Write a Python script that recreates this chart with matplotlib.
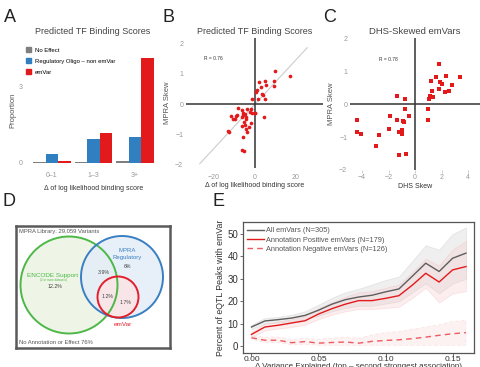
import matplotlib
matplotlib.use("Agg")
import matplotlib.pyplot as plt
from matplotlib.patches import Patch, Circle
from matplotlib.lines import Line2D

plt.rcParams["font.family"] = ["Liberation Sans", "DejaVu Sans"]

W, H = 480, 367

# ---- panel A data ----
bin_labels = ["0\u20131", "1\u20133", "3+"]
group_names = ["No Effect", "Regulatory Oligo \u2013 non emVar", "emVar"]
no_effect = [0.02, 0.02, 0.07]
reg_oligo = [0.36, 0.94, 1.03]
emvar = [0.09, 1.18, 4.15]

# ---- panel B data (delta log-lik, MPRA skew) ----
tf_delta = [9.7, 17.2, 9.3, 9.5, 1.8, 4.7, 5.3, 2.8, 0.8, 3.2, 3.7, 4.7, 1.5, -1.5,
            4.2, 0.2, -0.2, -1.3, -2.5, -3.7, -4.7, -5.7, -6.0, -6.5, -4.2, -8.2,
            -6.3, -8.8, -9.5, -11.7, -10.7, -9.8, -4.5, -5.2, -1.8, -4.7, -6.2,
            -3.0, -4.2, -3.7, -13.3, -12.5, -5.7, -6.2, -5.5, -2.0, 0.5]
tf_skew = [1.10, 0.94, 0.78, 0.61, 0.72, 0.78, 0.63, 0.56, 0.48, 0.34, 0.29, 0.18,
           0.17, 0.17, -0.43, -0.28, -0.28, -0.29, -0.25, -0.17, -0.32, -0.30,
           -0.35, -0.43, -0.43, -0.13, -0.20, -0.35, -0.41, -0.39, -0.49, -0.50,
           -0.49, -0.59, -0.63, -0.70, -0.72, -0.77, -0.83, -0.91, -0.88, -0.94,
           -1.09, -1.51, -1.54, -0.15, 0.40]
tf_fit_x = [-27, 25.5]
tf_fit_y = [-1.98, 1.87]

# ---- panel C data (DHS skew, MPRA skew) ----
dhs_skew = [1.82, 1.57, 2.33, 3.37, 1.22, 1.87, 2.03, 2.76, 1.77, 2.53, 2.23, 1.27,
            1.14, 1.06, 1.37, 0.96, 0.99, -1.37, -0.76, -0.76, -0.43, -0.89, -0.81,
            -1.92, -1.34, -1.97, -0.96, -1.22, -1.01, -2.73, -4.38, -4.38, -4.05,
            -2.96, -1.19, -0.71]
dhs_mpra = [1.24, 0.83, 0.88, 0.83, 0.73, 0.68, 0.63, 0.58, 0.48, 0.41, 0.38, 0.41,
            0.27, 0.18, 0.22, -0.13, -0.48, 0.25, 0.17, -0.15, -0.34, -0.51, -0.54,
            -0.36, -0.46, -0.74, -0.79, -0.84, -0.91, -0.94, -0.46, -0.83, -0.89,
            -1.27, -1.53, -1.50]

# ---- panel D data ----
venn_library = "MPRA Library: 29,059 Variants"
venn_none = "No Annotation or Effect 76%"
pct_encode = "12.2%"
pct_reg = "6%"
pct_enc_reg = "3.9%"
pct_all = "1.2%"
pct_reg_emvar = "1.7%"

# ---- panel E data ----
var_expl = [0.00, 0.01, 0.02, 0.03, 0.04, 0.05, 0.06, 0.07, 0.08, 0.09, 0.10,
            0.11, 0.12, 0.13, 0.14, 0.15, 0.16]
all_mean = [8.5, 11.2, 11.8, 12.5, 13.7, 16.0, 18.7, 20.7, 21.9, 22.7, 24.2, 25.5,
            31.2, 37.0, 33.3, 39.2, 41.5]
all_hi = [9.5, 12.5, 13, 14, 15.5, 18.5, 21.5, 24, 25.5, 27.5, 29.5, 31, 38, 45, 43, 50, 53]
all_lo = [7.5, 10, 10.5, 11, 12, 13.5, 15.5, 17, 18, 18, 19, 20, 24, 28, 23.5, 28, 30]
pos_mean = [5.2, 8.5, 9.3, 10.3, 11.3, 14.3, 16.7, 18.7, 20.3, 20.3, 21.3, 22.5,
            27.2, 32.5, 28.6, 34.0, 35.5]
pos_hi = [6.5, 10, 11, 12, 13.5, 17, 19.5, 22, 24, 24.5, 26, 27.5, 33, 39, 36, 43, 47]
pos_lo = [4, 7, 7.8, 8.5, 9.5, 12, 14, 15.5, 16.5, 16.5, 17, 17.5, 21.5, 26, 19.5, 23.5, 24.5]
neg_mean = [3.7, 2.6, 2.6, 1.5, 2.0, 1.3, 1.6, 1.8, 1.3, 2.1, 2.5, 2.8, 3.3, 4.0, 4.8, 5.5, 6.0]
neg_hi = [4.5, 4, 4, 3, 3.5, 3, 3.5, 4, 3.5, 5, 6, 6.5, 7.5, 8.5, 9.5, 11, 11.5]
neg_lo = [3, 1.5, 1.5, 0.5, 0.8, 0.3, 0.3, 0.3, 0.2, 0.3, 0.3, 0.3, 0.3, 0.3, 0.3, 0.3, 0.3]

GREY = "#7f7f7f"
BLUE = "#2f7fc1"
RED = "#e31a1c"
TICK = "#999999"
DARK = "#333333"


def rect(x0, y0, x1, y1):
    # pixel box (top-left origin) -> figure fraction
    return [x0 / W, 1 - y1 / H, (x1 - x0) / W, (y1 - y0) / H]


def ftext(x, y, s, **kw):
    fig.text(x / W, 1 - y / H, s, **kw)


fig = plt.figure(figsize=(4.8, 3.67), dpi=100)

# ---------------- A ----------------
axA = fig.add_axes(rect(27, 53, 160, 168))
bw = 0.3
xs = range(len(bin_labels))
axA.bar([i - bw for i in xs], no_effect, width=bw, color=GREY)
axA.bar(list(xs), reg_oligo, width=bw, color=BLUE)
axA.bar([i + bw for i in xs], emvar, width=bw, color=RED)
axA.set_xlim(-0.6, 2.6)
axA.set_ylim(-0.2, 4.34)
axA.set_xticks(list(xs))
axA.set_xticklabels(bin_labels)
axA.set_yticks([0, 3])
for s in axA.spines.values():
    s.set_visible(False)
axA.tick_params(length=0, labelsize=5, labelcolor=TICK, pad=3)
axA.set_ylabel("Proportion", fontsize=5.5, color="#555555", labelpad=2)
axA.set_xlabel("\u0394 of log likelihood binding score", fontsize=5, color=DARK, labelpad=4)
axA.legend(handles=[Patch(color=c) for c in (GREY, BLUE, RED)], labels=group_names,
           loc="upper left", bbox_to_anchor=(26 / W, 1 - 47 / H), bbox_transform=fig.transFigure,
           fontsize=4.3, frameon=False, handlelength=0.9, handleheight=0.9,
           labelspacing=0.95, handletextpad=0.6, borderpad=0, borderaxespad=0)
ftext(93, 31, "Predicted TF Binding Scores", ha="center", va="center", fontsize=6.5, color="#444444")

# ---------------- B ----------------
axB = fig.add_axes(rect(186, 38, 323, 168))
axB.plot(tf_fit_x, tf_fit_y, color="#cccccc", lw=0.8, zorder=1)
axB.axhline(0, color=DARK, lw=1.1, zorder=2)
axB.axvline(0, color=DARK, lw=1.1, zorder=2)
axB.scatter(tf_delta, tf_skew, s=7, color=RED, linewidths=0, zorder=3)
axB.set_xlim(-33.7, 33.2)
axB.set_ylim(-2.12, 2.19)
axB.set_xticks([-20, 0, 20])
axB.set_yticks([-2, -1, 0, 1, 2])
for s in axB.spines.values():
    s.set_visible(False)
axB.tick_params(length=0, labelsize=5, labelcolor=TICK)
axB.tick_params(axis="x", pad=4)
axB.tick_params(axis="y", pad=2)
axB.set_ylabel("MPRA Skew", fontsize=5.5, color="#555555", labelpad=3)
axB.set_xlabel("\u0394 of log likelihood binding score", fontsize=5, color=DARK, labelpad=1)
axB.text(-25, 1.5, "R = 0.76", fontsize=3.5, color=DARK, va="center")
ftext(255, 32, "Predicted TF Binding Scores", ha="center", va="center", fontsize=6.5, color="#444444")

# ---------------- C ----------------
axC = fig.add_axes(rect(350, 38, 480, 170))
axC.axhline(0, color=DARK, lw=1.1, zorder=2)
axC.axvline(0, color=DARK, lw=1.1, zorder=2)
axC.scatter(dhs_skew, dhs_mpra, s=9, marker="s", color=RED, linewidths=0, zorder=3)
axC.set_xlim(-4.9, 4.89)
axC.set_ylim(-1.97, 2.03)
axC.set_xticks([-4, -2, 0, 2, 4])
axC.set_yticks([-2, -1, 0, 1, 2])
for s in axC.spines.values():
    s.set_visible(False)
axC.tick_params(axis="y", length=0, labelsize=5, labelcolor=TICK, pad=2)
axC.tick_params(axis="x", length=2, width=0.5, color="#bbbbbb", labelsize=5, labelcolor=TICK, pad=1)
axC.set_ylabel("MPRA Skew", fontsize=5.5, color="#555555", labelpad=3)
axC.set_xlabel("DHS Skew", fontsize=5, color=DARK, labelpad=1)
axC.text(-2.7, 1.37, "R = 0.78", fontsize=3.5, color=DARK, va="center")
ftext(415, 32, "DHS-Skewed emVars", ha="center", va="center", fontsize=6.8, color="#444444")

# ---------------- D ----------------
axD = fig.add_axes(rect(16, 226, 170, 348))
axD.set_xlim(0, 154)
axD.set_ylim(0, 122)
axD.set_xticks([])
axD.set_yticks([])
for s in axD.spines.values():
    s.set_color("#5a5a5a")
    s.set_linewidth(1.8)
axD.add_patch(Circle((53, 63), 48.5, facecolor="#eef5e6", edgecolor="none", zorder=1))
axD.add_patch(Circle((106, 71), 41, facecolor="#e3edf7", edgecolor="none", alpha=0.85, zorder=2))
axD.add_patch(Circle((102, 51), 20.5, facecolor="#fbe4e6", edgecolor="none", alpha=0.9, zorder=3))
axD.add_patch(Circle((53, 63), 48.5, facecolor="none", edgecolor="#4db848", lw=1.4, zorder=4))
axD.add_patch(Circle((106, 71), 41, facecolor="none", edgecolor="#3a7fc1", lw=1.4, zorder=4))
axD.add_patch(Circle((102, 51), 20.5, facecolor="none", edgecolor="#e2202c", lw=1.4, zorder=5))
axD.text(3, 117, venn_library, fontsize=4.2, color="#555555", va="center")
axD.text(3, 5, venn_none, fontsize=4.2, color="#555555", va="center")
axD.text(111, 97, "MPRA", fontsize=4.3, color="#3a7fc1", ha="center", va="center", zorder=6)
axD.text(111, 90, "Regulatory", fontsize=4.3, color="#3a7fc1", ha="center", va="center", zorder=6)
axD.text(111, 82, pct_reg, fontsize=3.8, color="#444444", ha="center", va="center", zorder=6)
axD.text(37, 73, "ENCODE Support", fontsize=4.6, color="#4db848", ha="center", va="center", zorder=6)
axD.text(37, 68, "(2 or more datasets)", fontsize=2.2, color="#4db848", ha="center", va="center", zorder=6)
axD.text(39, 61, pct_encode, fontsize=3.8, color="#444444", ha="center", va="center", zorder=6)
axD.text(88, 75, pct_enc_reg, fontsize=3.8, color="#444444", ha="center", va="center", zorder=6)
axD.text(92, 52, pct_all, fontsize=3.8, color="#444444", ha="center", va="center", zorder=6)
axD.text(110, 45, pct_reg_emvar, fontsize=3.8, color="#444444", ha="center", va="center", zorder=6)
axD.text(107, 24, "emVar", fontsize=4.6, color="#e2202c", ha="center", va="center", zorder=6)

# ---------------- E ----------------
axE = fig.add_axes(rect(243, 222, 474, 353))
axE.fill_between(var_expl, all_lo, all_hi, facecolor="#d9d9d9", alpha=0.4,
                 edgecolor="#c8c8c8", lw=0.6)
axE.fill_between(var_expl, pos_lo, pos_hi, facecolor="#f7c6c8", alpha=0.3,
                 edgecolor="#f2b6b9", lw=0.6)
axE.fill_between(var_expl, neg_lo, neg_hi, facecolor="#fbd5d7", alpha=0.3,
                 edgecolor="#f5b9bc", lw=0.6, linestyle=(0, (4, 3)))
axE.plot(var_expl, all_mean, color="#5e5e5e", lw=1.0)
axE.plot(var_expl, pos_mean, color=RED, lw=1.0)
axE.plot(var_expl, neg_mean, color="#ee5a61", lw=1.0, dashes=(4, 3))
axE.set_xlim(-0.0063, 0.166)
axE.set_ylim(-3.1, 55.4)
axE.set_xticks([0.00, 0.05, 0.10, 0.15])
axE.set_xticklabels(["0.00", "0.05", "0.10", "0.15"])
axE.set_yticks([0, 10, 20, 30, 40, 50])
for s in axE.spines.values():
    s.set_color("#555555")
    s.set_linewidth(0.9)
axE.tick_params(axis="y", length=2, width=0.6, color="#555555", labelsize=7, labelcolor=DARK, pad=1.5)
axE.tick_params(axis="x", length=2, width=0.6, color="#555555", labelsize=6, labelcolor=DARK, pad=0.5)
axE.set_ylabel("Percent of eQTL Peaks with emVar", fontsize=6.3, color=DARK, labelpad=2)
axE.set_xlabel("\u0394 Variance Explained (top \u2013 second strongest association)",
               fontsize=5.8, color=DARK, labelpad=0)
axE.legend(handles=[Line2D([], [], color="#5e5e5e", lw=1.0),
                    Line2D([], [], color=RED, lw=1.0),
                    Line2D([], [], color="#ee5a61", lw=1.0, dashes=(4, 3))],
           labels=["All emVars (N=305)", "Annotation Positive emVars (N=179)",
                   "Annotation Negative emVars (N=126)"],
           loc="upper left", bbox_to_anchor=(247 / W, 1 - 227 / H), bbox_transform=fig.transFigure,
           fontsize=5.3, frameon=False, handlelength=2.3, handletextpad=0.3,
           labelspacing=0.3, borderpad=0, borderaxespad=0, labelcolor="#555555")

# panel letters
for lx, ly, lab in [(4, 17, "A"), (163, 17, "B"), (323, 17, "C"), (3, 202, "D"), (213, 202, "E")]:
    ftext(lx, ly, lab, fontsize=13, color="#222222", va="center", ha="left")

fig.savefig("out.png", dpi=100)
